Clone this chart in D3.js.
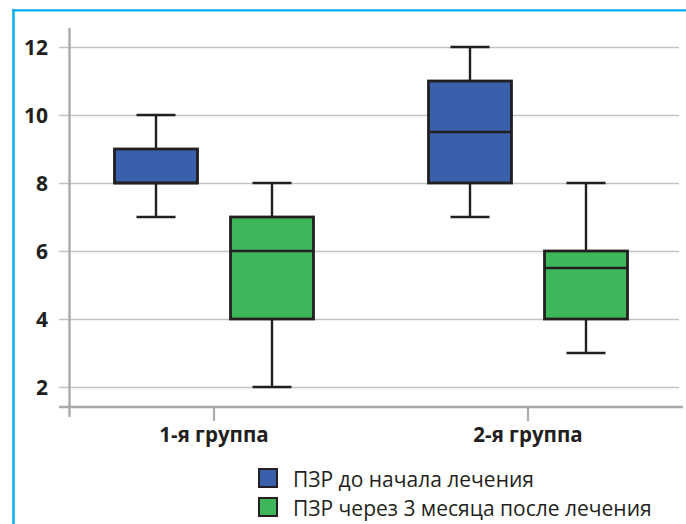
<!DOCTYPE html>
<html><head><meta charset="utf-8">
<script src="https://cdn.jsdelivr.net/npm/d3@7"></script>
<style>
html,body{margin:0;padding:0;background:#fff;}
svg{display:block;}
</style></head>
<body>
<script>
// ---- data ----
const categories = ["1-я группа", "2-я группа"];
const seriesNames = ["ПЗР до начала лечения", "ПЗР через 3 месяца после лечения"];
const seriesColors = ["#3a60ab", "#3db75a"];
// [min, q1, median, q3, max] per category
const beforeStats = [[7, 8, 8, 9, 10], [7, 8, 9.5, 11, 12]];
const afterStats  = [[2, 4, 6, 7, 8], [3, 4, 5.5, 6, 8]];
const yTicks = [2, 4, 6, 8, 10, 12];

const W = 686, H = 524;
const svg = d3.select("body").append("svg").attr("width", W).attr("height", H);

// frame
svg.append("line").attr("x1", 13.5).attr("x2", 13.5).attr("y1", 9).attr("y2", H)
  .attr("stroke", "#00aeef").attr("stroke-width", 2.5);
svg.append("line").attr("x1", 12.3).attr("x2", W).attr("y1", 10.3).attr("y2", 10.3)
  .attr("stroke", "#00aeef").attr("stroke-width", 2.2);

const y = d3.scaleLinear().domain([2, 12]).range([387, 47]);
const x = d3.scaleBand().domain(categories).range([57, 685]);
const inner = d3.scalePoint().domain(seriesNames).range([-58, 58]);
const boxW = 83, capW = 39;

const gridX0 = 59, gridX1 = 679;
const axisY = 407;

// y gridlines + labels
const yAxis = d3.axisLeft(y).tickValues(yTicks).tickSize(-(gridX1 - gridX0)).tickPadding(11);
const gy = svg.append("g").attr("transform", `translate(${gridX0},0)`).call(yAxis);
gy.select(".domain").remove();
gy.selectAll(".tick line").attr("stroke", "#c2c2c2").attr("stroke-width", 1.6);
gy.selectAll(".tick text").attr("fill", "#231f20").attr("font-family", "Open Sans")
  .attr("font-weight", "bold").attr("font-size", 21).attr("dy", "0.36em");

// x axis
const xAxis = d3.axisBottom(x).tickSize(14).tickPadding(9);
const gx = svg.append("g").attr("transform", `translate(0,${axisY})`).call(xAxis);
gx.select(".domain").remove();
gx.selectAll(".tick line").attr("stroke", "#a7a9ac").attr("stroke-width", 2.2);
gx.selectAll(".tick text").attr("fill", "#231f20").attr("font-family", "Open Sans")
  .attr("font-weight", "bold").attr("font-size", 20.5).attr("y", 35).attr("dy", 0);
svg.append("line").attr("x1", gridX0).attr("x2", 683).attr("y1", axisY).attr("y2", axisY)
  .attr("stroke", "#a7a9ac").attr("stroke-width", 2.4);
// y axis line
svg.append("line").attr("x1", 69.5).attr("x2", 69.5).attr("y1", y(12.56)).attr("y2", y(1.12))
  .attr("stroke", "#a7a9ac").attr("stroke-width", 2.4);

// boxes
const stroke = "#231f20", sw = 2.4;
const allStats = [beforeStats, afterStats];
allStats.forEach((stats, si) => {
  stats.forEach((s, ci) => {
    const cx = x(categories[ci]) + x.bandwidth() / 2 + inner(seriesNames[si]);
    const [mn, q1, md, q3, mx] = s;
    const g = svg.append("g");
    g.append("line").attr("x1", cx).attr("x2", cx).attr("y1", y(mx)).attr("y2", y(mn))
      .attr("stroke", stroke).attr("stroke-width", sw);
    [mn, mx].forEach(v => g.append("line").attr("x1", cx - capW / 2).attr("x2", cx + capW / 2)
      .attr("y1", y(v)).attr("y2", y(v)).attr("stroke", stroke).attr("stroke-width", sw));
    g.append("rect").attr("x", cx - boxW / 2).attr("width", boxW)
      .attr("y", y(q3)).attr("height", y(q1) - y(q3))
      .attr("fill", seriesColors[si]).attr("stroke", stroke).attr("stroke-width", sw + 0.4);
    g.append("line").attr("x1", cx - boxW / 2).attr("x2", cx + boxW / 2)
      .attr("y1", y(md)).attr("y2", y(md)).attr("stroke", stroke).attr("stroke-width", sw);
  });
});

// legend
const lg = svg.append("g").attr("transform", "translate(258,468)");
seriesNames.forEach((n, i) => {
  const row = lg.append("g").attr("transform", `translate(0,${i * 29})`);
  row.append("rect").attr("x", 1).attr("y", 1).attr("width", 18).attr("height", 18)
    .attr("fill", seriesColors[i]).attr("stroke", stroke).attr("stroke-width", 2);
  row.append("text").attr("x", 35).attr("y", 19)
    .attr("font-family", "Open Sans").attr("font-size", 21).attr("fill", "#231f20").text(n);
});
</script>
</body></html>
